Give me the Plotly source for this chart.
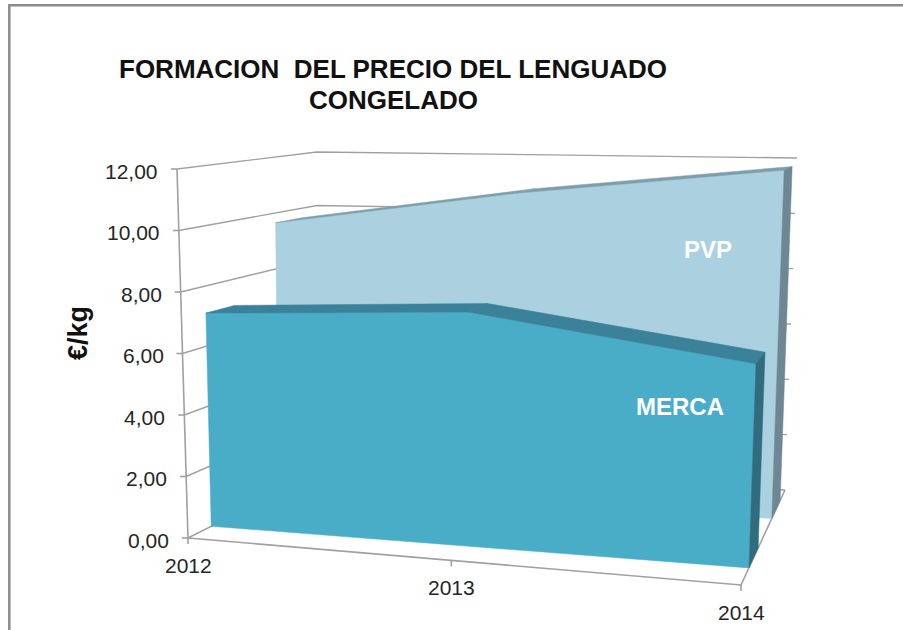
import plotly.graph_objects as go

years = ["2012", "2013", "2014"]
pvp = [9.65, 10.85, 11.77]
merca = [7.1, 7.45, 6.2]
z_ticks = [0, 2, 4, 6, 8, 10, 12]
z_labels = ["0,00", "2,00", "4,00", "6,00", "8,00", "10,00", "12,00"]
title_lines = ["FORMACION  DEL PRECIO DEL LENGUADO", "CONGELADO"]
y_title = "€/kg"

# Oblique view of the chart box: where the eight box corners land on the page.
FL0, FL1 = (188, 538), (177, 169)
BL0, BL1 = (317, 473), (317, 152)
FR0, FR1 = (741, 585), (755, 176)
BR0, BR1 = (785, 490), (797, 158)
Z_MAX = 12
X_FORESHORTEN = 1.1


def mix(a, b, t):
    return (a[0] + (b[0] - a[0]) * t, a[1] + (b[1] - a[1]) * t)


def project(i, depth, value):
    """Category index, depth (0 front..1 back), value -> page position."""
    t = i / (len(years) - 1)
    u = t / (t + X_FORESHORTEN * (1 - t))
    bottom = mix(mix(FL0, FR0, u), mix(BL0, BR0, u), depth)
    top = mix(mix(FL1, FR1, u), mix(BL1, BR1, u), depth)
    return mix(bottom, top, value / Z_MAX)


fig = go.Figure()


def poly(points, color):
    xs = [p[0] for p in points] + [points[0][0]]
    ys = [p[1] for p in points] + [points[0][1]]
    fig.add_trace(go.Scatter(x=xs, y=ys, mode="lines", fill="toself", fillcolor=color,
                             line=dict(width=0.5, color=color), hoverinfo="skip"))


def line(points, color="#a0a0a0", width=1.6):
    fig.add_trace(go.Scatter(x=[p[0] for p in points], y=[p[1] for p in points], mode="lines",
                             line=dict(color=color, width=width), hoverinfo="skip"))


last = len(years) - 1
# walls: gridlines on side and back wall (they run on to the tick tips at the right)
for z in z_ticks:
    line([project(0, 0, z), project(0, 1, z), project(last, 1, z)], width=1.4)
    a = project(0, 0, z)
    line([(a[0] - 6, a[1]), a], width=1.6)
# axes
line([project(0, 0, 0), project(0, 0, Z_MAX)])
line([project(0, 0, 0), project(last, 0, 0), project(last, 1, 0)])
for i in range(len(years)):
    a = project(i, 0, 0)
    line([a, (a[0], a[1] + 6)])


def area(values, d0, d1, front, top, side):
    n = len(values)
    poly([project(i, d0, v) for i, v in enumerate(values)] + [project(n - 1, d0, 0), project(0, d0, 0)], front)
    for i in range(n - 1):
        poly([project(i, d0, values[i]), project(i + 1, d0, values[i + 1]),
              project(i + 1, d1, values[i + 1]), project(i, d1, values[i])], top)
    poly([project(n - 1, d0, values[-1]), project(n - 1, d1, values[-1]),
          project(n - 1, d1, 0), project(n - 1, d0, 0)], side)


area(pvp, 0.70, 0.89, "#abd0df", "#7e9eac", "#6d8794")
area(merca, 0.18, 0.39, "#4aadc8", "#3a8199", "#316c7e")

ann = []
for z, lab in zip(z_ticks, z_labels):
    p = project(0, 0, z)
    ann.append(dict(x=p[0] - 17, y=p[1] + 2, text=lab, xanchor="right", yanchor="middle", showarrow=False,
                    font=dict(size=21, color="#262626")))
for i, yr in enumerate(years):
    p = project(i, 0, 0)
    ann.append(dict(x=p[0], y=p[1] + 27, text=yr, xanchor="center", yanchor="middle",
                    showarrow=False, font=dict(size=21, color="#262626")))
ann.append(dict(x=393, y=69, text="<b>%s</b>" % title_lines[0], showarrow=False, font=dict(size=26, color="#111111")))
ann.append(dict(x=393, y=100, text="<b>%s</b>" % title_lines[1], showarrow=False, font=dict(size=26, color="#111111")))
ann.append(dict(x=78, y=333, text="<b>%s</b>" % y_title, textangle=-90, showarrow=False, font=dict(size=27, color="#111111")))
ann.append(dict(x=708, y=249, text="<b>PVP</b>", showarrow=False, font=dict(size=24, color="white")))
ann.append(dict(x=680, y=406, text="<b>MERCA</b>", showarrow=False, font=dict(size=24, color="white")))

fig.update_layout(
    width=903, height=630, margin=dict(l=0, r=0, t=0, b=0), showlegend=False,
    paper_bgcolor="white", plot_bgcolor="white",
    font=dict(family="Liberation Sans"),
    xaxis=dict(range=[0, 903], visible=False, fixedrange=True),
    yaxis=dict(range=[630, 0], visible=False, fixedrange=True),
    annotations=ann,
    shapes=[dict(type="rect", x0=9.3, y0=5.2, x1=930, y1=660, line=dict(color="#8c8c8c", width=2.5), layer="below")],
)
fig.write_html("out.html", config=dict(displayModeBar=False),
               post_script="document.body.style.margin='0';document.body.style.overflow='hidden';")
